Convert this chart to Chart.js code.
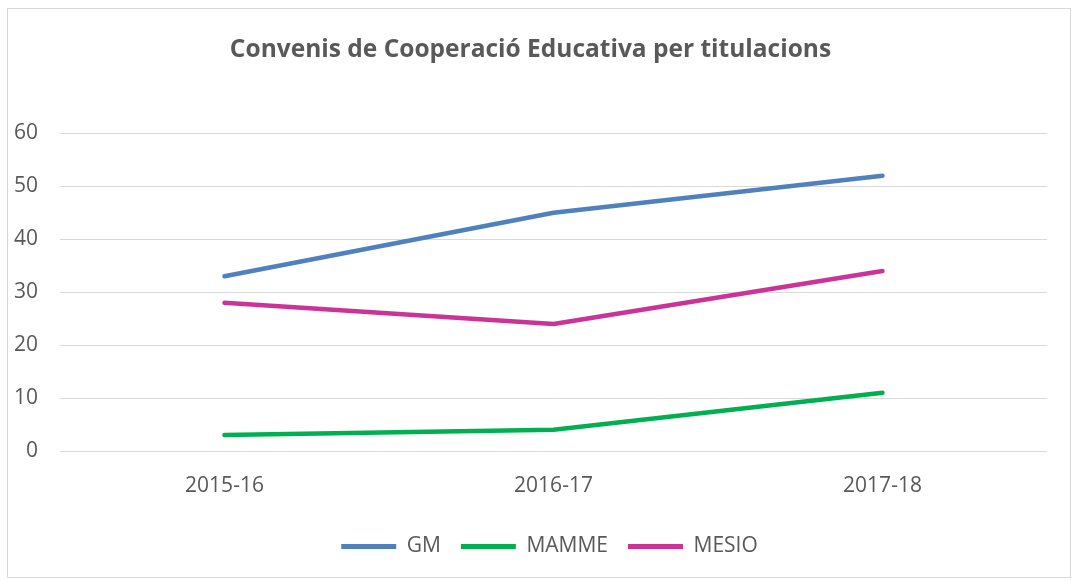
<!DOCTYPE html>
<html>
<head>
<meta charset="utf-8">
<script src="https://cdn.jsdelivr.net/npm/chart.js@4.4.0/dist/chart.umd.min.js"></script>
<style>
  html, body { margin: 0; padding: 0; background: #fff; }
  #box {
    position: absolute; left: 7px; top: 8px;
    width: 1062px; height: 568px;
    border: 1px solid #d9d9d9;
  }
</style>
</head>
<body>
<div id="box"><canvas id="chart" width="1062" height="568"></canvas></div>
<script>
const categories = ['2015-16', '2016-17', '2017-18'];
const gmValues = [33, 45, 52];
const mammeValues = [3, 4, 11];
const mesioValues = [28, 24, 34];

const font = '"Open Sans", "Liberation Sans", sans-serif';
const textColor = '#595959';

// fixed legend height, and centre it on the plot area rather than the canvas
const legendSpace = {
  id: 'legendSpace',
  beforeInit(chart) {
    const fit = chart.legend.fit;
    chart.legend.fit = function () {
      fit.call(this);
      this.height = 61;
    };
  },
  afterLayout(chart) {
    chart.legend.left += 19;
    chart.legend.right += 19;
  }
};

const line = (label, data, color) => ({
  label: label,
  data: data,
  borderColor: color,
  backgroundColor: color,
  borderWidth: 4.5,
  borderCapStyle: 'round',
  borderJoinStyle: 'round',
  pointRadius: 0,
  tension: 0
});

new Chart(document.getElementById('chart').getContext('2d'), {
  type: 'line',
  data: {
    labels: categories,
    datasets: [
      line('GM', gmValues, '#4f81bd'),
      line('MAMME', mammeValues, '#00b050'),
      line('MESIO', mesioValues, '#cc3399')
    ]
  },
  options: {
    responsive: false,
    animation: false,
    layout: { padding: { left: 6, right: 23, top: 0, bottom: 0 } },
    plugins: {
      title: {
        display: true,
        text: 'Convenis de Cooperació Educativa per titulacions',
        color: textColor,
        font: { family: font, size: 24.5, weight: 'bold' },
        padding: { top: 26, bottom: 69 }
      },
      legend: {
        position: 'bottom',
        labels: {
          color: textColor,
          font: { family: font, size: 21 },
          boxWidth: 55,
          boxHeight: 5,
          useBorderRadius: true,
          borderRadius: 2.5,
          padding: 20,
          generateLabels(chart) {
            return chart.data.datasets.map((ds, i) => ({
              text: ds.label,
              fillStyle: ds.borderColor,
              strokeStyle: ds.borderColor,
              lineWidth: 0,
              fontColor: textColor,
              datasetIndex: i
            }));
          }
        }
      },
      tooltip: { enabled: false }
    },
    scales: {
      x: {
        offset: true,
        grid: { display: false, drawTicks: false },
        border: { display: false },
        ticks: { color: textColor, font: { family: font, size: 21 }, padding: 22 },
        afterFit(scale) { scale.height = 65; }
      },
      y: {
        min: 0,
        max: 60,
        ticks: { stepSize: 10, color: textColor, font: { family: font, size: 21 }, padding: 22 },
        grid: { color: '#d9d9d9', lineWidth: 1, drawTicks: false },
        border: { display: false },
        afterFit(scale) { scale.width = 46; }
      }
    }
  },
  plugins: [legendSpace]
});
</script>
</body>
</html>
